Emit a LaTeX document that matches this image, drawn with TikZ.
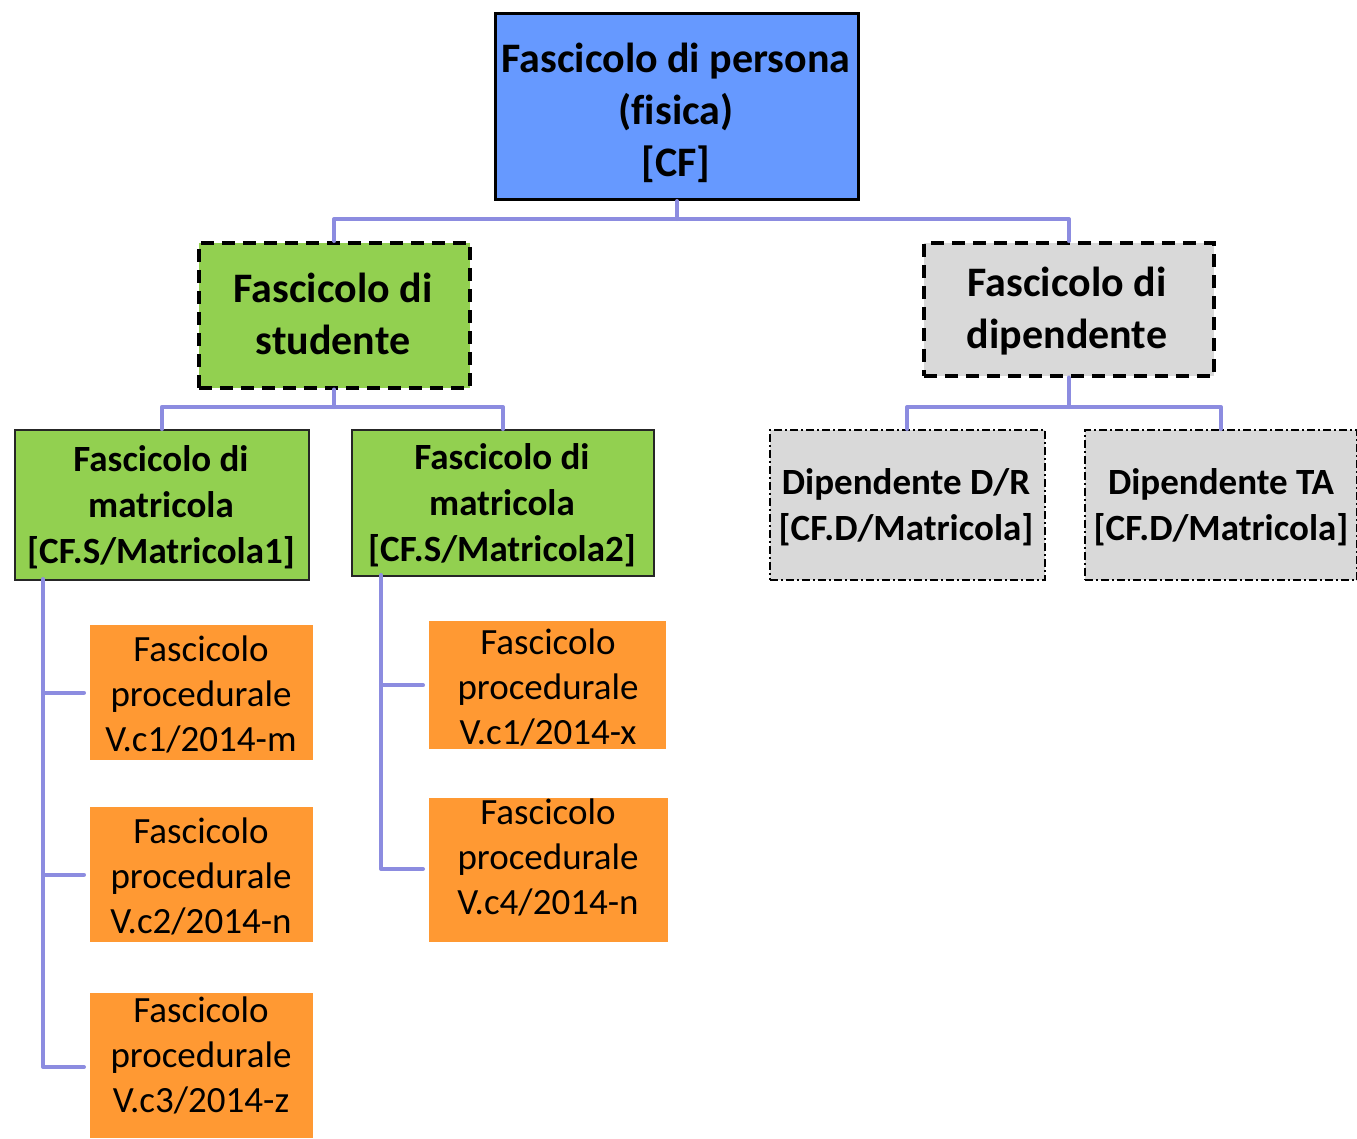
\documentclass[tikz,border=0pt]{standalone}
\usepackage{fontspec}
\setmainfont[Ligatures=NoCommon]{Carlito}
\definecolor{persona}{HTML}{6699FF}
\definecolor{verde}{HTML}{92D050}
\definecolor{grigio}{HTML}{D9D9D9}
\definecolor{arancio}{HTML}{FF9933}
\definecolor{linea}{RGB}{140,140,224}
\begin{document}
\begin{tikzpicture}[x=1pt,y=-1pt,
  box/.style={rectangle,inner sep=0pt,anchor=north west},
  lvlA/.style={box,fill=persona,draw=black,line width=3pt},
  lvlB/.style={box,fill=verde,draw=black,line width=3.5pt,dash pattern=on 13pt off 8pt},
  lvlC/.style={box,fill=grigio,draw=black,line width=3.5pt,dash pattern=on 13pt off 8pt},
  matr/.style={box,fill=verde,draw=black!85,line width=1.5pt},
  dip/.style={box,fill=grigio,draw=black,line width=1.5pt,dash pattern=on 8pt off 3pt on 2pt off 3pt},
  proc/.style={box,fill=arancio},
  bigtxt/.style={align=center,inner sep=0pt,font=\fontsize{42}{52}\selectfont\bfseries},
  midtxt/.style={align=center,inner sep=0pt,font=\fontsize{37}{46}\selectfont\bfseries},
  proctxt/.style={align=center,inner sep=0pt,font=\fontsize{37}{45}\selectfont},
  conn/.style={draw=linea,line width=4pt,line cap=round,line join=round}]
\useasboundingbox (0,0) rectangle (1357,1138);

% boxes
\node[lvlA,minimum width=363,minimum height=186] (persona) at (494,12) {};
\node[lvlB,minimum width=271,minimum height=145] (stud) at (197,241) {};
\node[lvlC,minimum width=290,minimum height=133] (dipe) at (922,241) {};
\node[matr,minimum width=294,minimum height=150] (m1) at (14,429) {};
\node[matr,minimum width=302,minimum height=146] (m2) at (351,429) {};
\node[dip,minimum width=275,minimum height=150] (dr) at (769,429) {};
\node[dip,minimum width=272,minimum height=150] (ta) at (1084,429) {};
\node[proc,minimum width=223,minimum height=135] (p1) at (90,625) {};
\node[proc,minimum width=223,minimum height=135] (p2) at (90,807) {};
\node[proc,minimum width=223,minimum height=145] (p3) at (90,993) {};
\node[proc,minimum width=237,minimum height=128] (p4) at (429,621) {};
\node[proc,minimum width=239,minimum height=144] (p5) at (429,798) {};

% labels
\node[bigtxt] (tpersona) at (676,113) {Fascicolo di persona\\(fisica)\\{}[CF]};
\node[bigtxt] (tstud) at (333,314) {Fascicolo di\\studente};
\node[bigtxt] (tdipe) at (1067,311) {Fascicolo di\\dipendente};
\node[midtxt] (tm1) at (161,507) {Fascicolo di\\matricola\\{}[CF.S/Matricola1]};
\node[midtxt] (tm2) at (502,505) {Fascicolo di\\matricola\\{}[CF.S/Matricola2]};
\node[midtxt] (tdr) at (906,507) {Dipendente D/R\\{}[CF.D/Matricola]};
\node[midtxt] (tta) at (1221,507) {Dipendente TA\\{}[CF.D/Matricola]};
\node[proctxt] (tp1) at (201,694) {Fascicolo\\procedurale\\V.c1/2014-m};
\node[proctxt] (tp2) at (201,876) {Fascicolo\\procedurale\\V.c2/2014-n};
\node[proctxt] (tp3) at (201,1055) {Fascicolo\\procedurale\\V.c3/2014-z};
\node[proctxt] (tp4) at (548,687) {Fascicolo\\procedurale\\V.c1/2014-x};
\node[proctxt] (tp5) at (548,857) {Fascicolo\\procedurale\\V.c4/2014-n};

% connectors
\coordinate (j1) at (persona.south |- 0,219);
\coordinate (j2) at (stud.south |- 0,407);
\coordinate (j3) at (dipe.south |- 0,407);
\draw[conn] (persona.south) -- (j1);
\draw[conn] (stud.north) |- (j1) -| (dipe.north);
\draw[conn] (stud.south) -- (j2);
\draw[conn] (m1.north) |- (j2) -| (m2.north);
\draw[conn] (dipe.south) -- (j3);
\draw[conn] (dr.north) |- (j3) -| (ta.north);

\coordinate (v1) at (43,579);
\coordinate (v2) at (381,575);
\draw[conn] (v1) |- ([xshift=-6pt]p3.west |- 0,1067);
\draw[conn] (v1 |- p1.west) -- ([xshift=-6pt]p1.west);
\draw[conn] (v1 |- p2.west) -- ([xshift=-6pt]p2.west);
\draw[conn] (v2) |- ([xshift=-6pt]p5.west |- 0,869);
\draw[conn] (v2 |- p4.west) -- ([xshift=-6pt]p4.west);
\end{tikzpicture}
\end{document}
